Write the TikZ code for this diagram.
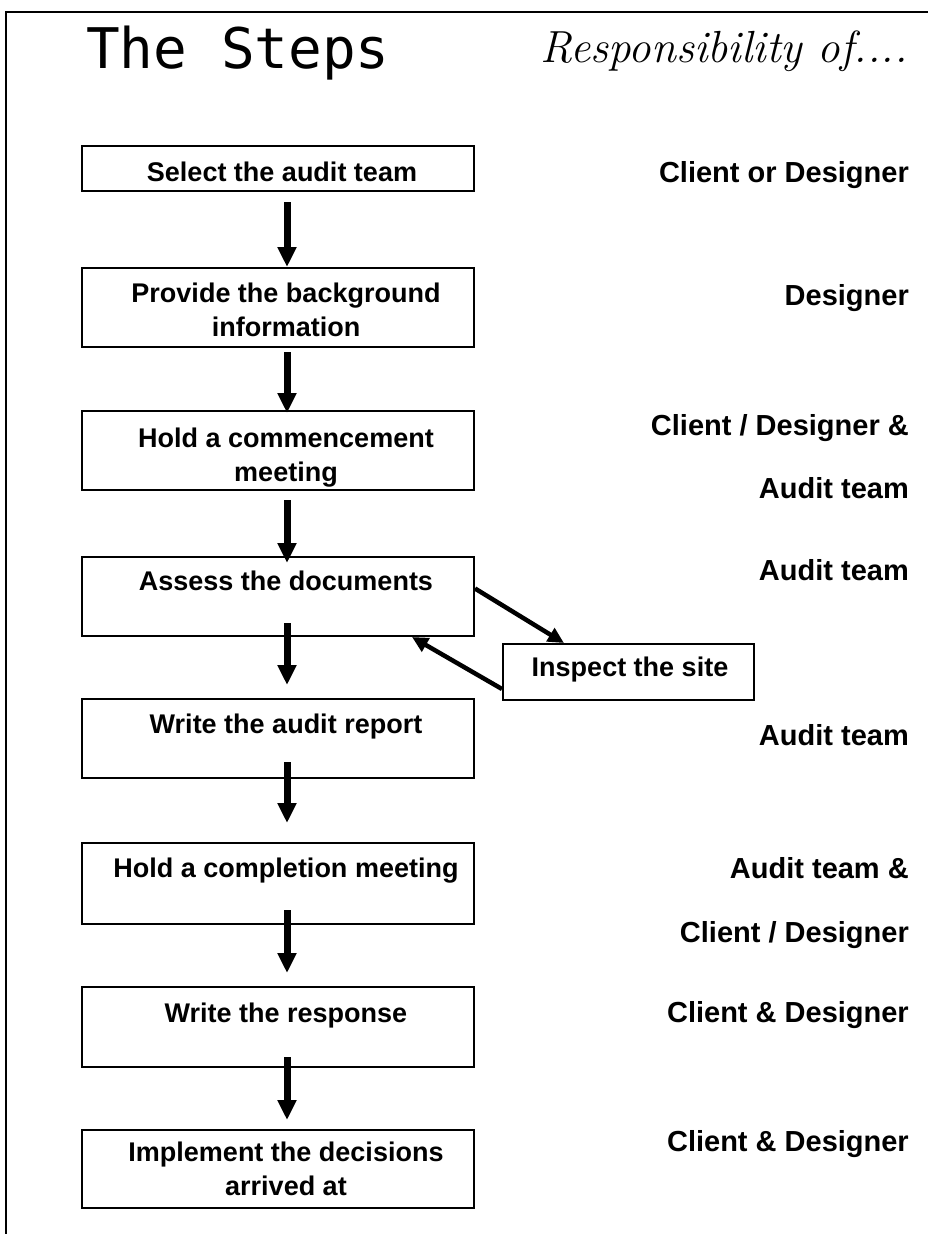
\documentclass[tikz,border=0pt]{standalone}
\usepackage{fontspec}
\newfontfamily\arialfont{Liberation Sans}
\newfontfamily\titlemono{DejaVu Sans Mono}
\usetikzlibrary{arrows.meta}
\tikzset{
  stepbox/.style={draw=black, line width=2pt, fill=white, rectangle, inner sep=0pt, anchor=north west},
  steptext/.style={font=\arialfont\bfseries\fontsize{27}{34}\selectfont, align=center, inner sep=0pt, anchor=base},
  resptext/.style={font=\arialfont\bfseries\fontsize{29}{34}\selectfont, inner sep=0pt, anchor=base east},
  bigarrow/.style={line width=7pt, -{Triangle[width=18pt,length=20pt]}},
  diagarrow/.style={line width=4.5pt, -{Triangle[width=15pt,length=16pt]}}
}
\begin{document}
\begin{tikzpicture}[x=1pt,y=-1pt]
\useasboundingbox (0,0) rectangle (928,1234);
\fill[white] (0,0) rectangle (928,1234);
% frame
\draw[line width=1.5pt] (6,1234) -- (6,12) -- (928,12);
% headings
\node[font=\titlemono\fontsize{56}{60}\selectfont, inner sep=0pt, anchor=base west] (title) at (86,68) {The Steps};
\node[font=\rmfamily\itshape\fontsize{45}{50}\selectfont, inner sep=0pt, anchor=base east] (resp) at (908,62) {Responsibility of....};
% boxes
\node[stepbox, minimum width=392, minimum height=45] (b1) at (81,145) {};
\node[stepbox, minimum width=392, minimum height=79] (b2) at (81,267) {};
\node[stepbox, minimum width=392, minimum height=79] (b3) at (81,410) {};
\node[stepbox, minimum width=392, minimum height=79] (b4) at (81,556) {};
\node[stepbox, minimum width=251, minimum height=56] (site) at (502,643) {};
\node[stepbox, minimum width=392, minimum height=79] (b5) at (81,698) {};
\node[stepbox, minimum width=392, minimum height=81] (b6) at (81,842) {};
\node[stepbox, minimum width=392, minimum height=80] (b7) at (81,986) {};
\node[stepbox, minimum width=392, minimum height=78] (b8) at (81,1129) {};
% box texts (multi-line nodes: base = last line)
\node[steptext] (t1) at (282,181) {Select the audit team};
\node[steptext] (t2) at (286,336) {Provide the background\\information};
\node[steptext] (t3) at (286,481) {Hold a commencement\\meeting};
\node[steptext] (t4) at (286,590) {Assess the documents};
\node[steptext] (t5) at (630,676) {Inspect the site};
\node[steptext] (t6) at (286,733) {Write the audit report};
\node[steptext] (t7) at (286,877) {Hold a completion meeting};
\node[steptext] (t8) at (286,1022) {Write the response};
\node[steptext] (t9) at (286,1195) {Implement the decisions\\arrived at};
% responsibilities
\node[resptext] (r1) at (909,182) {Client or Designer};
\node[resptext] (r2) at (909,305) {Designer};
\node[resptext] (r3) at (909,435) {Client / Designer \&};
\node[resptext] (r4) at (909,498) {Audit team};
\node[resptext] (r5) at (909,580) {Audit team};
\node[resptext] (r6) at (909,745) {Audit team};
\node[resptext] (r7) at (909,878) {Audit team \&};
\node[resptext] (r8) at (909,942) {Client / Designer};
\node[resptext] (r9) at (909,1022) {Client \& Designer};
\node[resptext] (r10) at (909,1151) {Client \& Designer};
% main arrows
\draw[bigarrow, shorten <=10pt] ([xshift=9pt]b1.south) -- ([xshift=9pt]b2.north);
\draw[bigarrow, shorten <=4pt, shorten >=-3pt] ([xshift=9pt]b2.south) -- ([xshift=9pt]b3.north);
\draw[bigarrow, shorten <=9pt, shorten >=-7pt] ([xshift=9pt]b3.south) -- ([xshift=9pt]b4.north);
\draw[bigarrow, shorten <=-14pt, shorten >=13pt] ([xshift=9pt]b4.south) -- ([xshift=9pt]b5.north);
\draw[bigarrow, shorten <=-17pt, shorten >=19pt] ([xshift=9pt]b5.south) -- ([xshift=9pt]b6.north);
\draw[bigarrow, shorten <=-15pt, shorten >=13pt] ([xshift=9pt]b6.south) -- ([xshift=9pt]b7.north);
\draw[bigarrow, shorten <=-11pt, shorten >=9pt] ([xshift=9pt]b7.south) -- ([xshift=9pt]b8.north);
% site loop
\draw[diagarrow] ([yshift=8pt]b4.east) -- ([xshift=-64.5pt]site.north);
\draw[diagarrow] ([yshift=-17pt]site.west) -- ([xshift=134pt]b4.south);
\end{tikzpicture}
\end{document}
